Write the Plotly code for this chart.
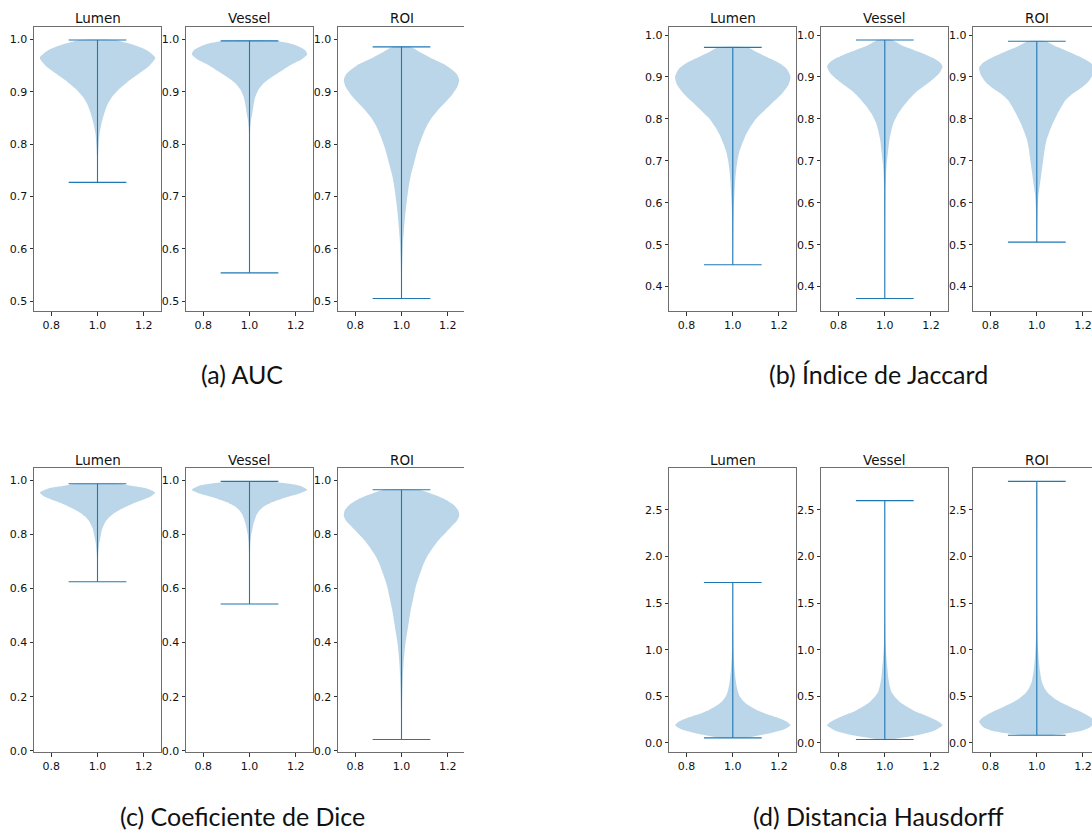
import numpy as np
import plotly.graph_objects as go

# ---------------- data ----------------
panel_titles = ["(a) AUC", "(b) Índice de Jaccard", "(c) Coeficiente de Dice", "(d) Distancia Hausdorff"]
regions = ["Lumen", "Vessel", "ROI"]

# violin profiles: value levels (min..max) and relative density width (max = 1)
auc_lumen_y = [0.727, 0.75, 0.78, 0.80, 0.82, 0.84, 0.86, 0.875, 0.89, 0.905, 0.92, 0.935, 0.95, 0.965, 0.98, 0.99, 0.999]
auc_lumen_w = [0.002, 0.004, 0.01, 0.02, 0.035, 0.07, 0.12, 0.17, 0.25, 0.37, 0.53, 0.72, 0.90, 1.00, 0.85, 0.62, 0.30]
auc_vessel_y = [0.554, 0.70, 0.80, 0.83, 0.845, 0.86, 0.875, 0.89, 0.905, 0.917, 0.928, 0.94, 0.952, 0.962, 0.972, 0.98, 0.99, 0.9975]
auc_vessel_w = [0.002, 0.003, 0.006, 0.012, 0.025, 0.05, 0.07, 0.10, 0.16, 0.25, 0.38, 0.55, 0.72, 0.90, 1.0, 0.96, 0.78, 0.45]
auc_roi_y = [0.505, 0.55, 0.58, 0.61, 0.64, 0.665, 0.69, 0.715, 0.74, 0.765, 0.79, 0.815, 0.835, 0.85, 0.865, 0.88, 0.895, 0.91, 0.923, 0.935, 0.95, 0.965, 0.975, 0.986]
auc_roi_w = [0.004, 0.008, 0.015, 0.025, 0.045, 0.065, 0.09, 0.12, 0.16, 0.22, 0.28, 0.36, 0.44, 0.52, 0.63, 0.76, 0.88, 0.97, 1.0, 0.95, 0.78, 0.50, 0.33, 0.15]

jac_lumen_y = [0.452, 0.50, 0.55, 0.59, 0.62, 0.65, 0.68, 0.70, 0.72, 0.74, 0.76, 0.78, 0.80, 0.82, 0.84, 0.86, 0.88, 0.90, 0.92, 0.935, 0.95, 0.96, 0.9706]
jac_lumen_w = [0.003, 0.005, 0.01, 0.018, 0.028, 0.04, 0.06, 0.08, 0.11, 0.16, 0.22, 0.30, 0.40, 0.55, 0.70, 0.85, 0.96, 1.0, 0.93, 0.78, 0.55, 0.40, 0.25]
jac_vessel_y = [0.3716, 0.45, 0.55, 0.62, 0.66, 0.69, 0.72, 0.75, 0.77, 0.79, 0.81, 0.83, 0.85, 0.865, 0.88, 0.895, 0.91, 0.925, 0.935, 0.945, 0.955, 0.965, 0.975, 0.988]
jac_vessel_w = [0.002, 0.004, 0.006, 0.01, 0.018, 0.03, 0.055, 0.08, 0.11, 0.15, 0.22, 0.32, 0.44, 0.55, 0.70, 0.84, 0.95, 1.0, 0.95, 0.84, 0.68, 0.49, 0.30, 0.12]
jac_roi_y = [0.506, 0.54, 0.57, 0.60, 0.62, 0.64, 0.67, 0.70, 0.73, 0.75, 0.77, 0.79, 0.81, 0.83, 0.845, 0.86, 0.875, 0.89, 0.905, 0.922, 0.935, 0.95, 0.965, 0.975, 0.985]
jac_roi_w = [0.004, 0.007, 0.012, 0.02, 0.03, 0.05, 0.08, 0.11, 0.14, 0.17, 0.22, 0.28, 0.35, 0.43, 0.50, 0.62, 0.78, 0.90, 0.97, 1.0, 0.92, 0.72, 0.47, 0.30, 0.15]

dice_lumen_y = [0.625, 0.66, 0.70, 0.73, 0.76, 0.78, 0.80, 0.82, 0.835, 0.85, 0.865, 0.88, 0.895, 0.91, 0.925, 0.94, 0.955, 0.97, 0.98, 0.987]
dice_lumen_w = [0.003, 0.005, 0.008, 0.013, 0.025, 0.04, 0.06, 0.08, 0.11, 0.15, 0.21, 0.30, 0.42, 0.57, 0.75, 0.92, 1.0, 0.85, 0.58, 0.35]
dice_vessel_y = [0.5425, 0.65, 0.73, 0.77, 0.80, 0.82, 0.84, 0.86, 0.875, 0.89, 0.905, 0.92, 0.935, 0.95, 0.965, 0.98, 0.99, 0.996]
dice_vessel_w = [0.002, 0.004, 0.008, 0.015, 0.03, 0.05, 0.07, 0.10, 0.13, 0.18, 0.26, 0.40, 0.60, 0.85, 1.0, 0.87, 0.60, 0.35]
dice_roi_y = [0.0414, 0.08, 0.15, 0.22, 0.28, 0.32, 0.36, 0.40, 0.44, 0.48, 0.52, 0.56, 0.60, 0.63, 0.66, 0.69, 0.72, 0.75, 0.77, 0.79, 0.81, 0.83, 0.85, 0.87, 0.89, 0.91, 0.93, 0.95, 0.965]
dice_roi_w = [0.003, 0.004, 0.008, 0.015, 0.025, 0.035, 0.05, 0.07, 0.10, 0.13, 0.16, 0.20, 0.24, 0.28, 0.33, 0.38, 0.45, 0.54, 0.61, 0.69, 0.78, 0.87, 0.96, 1.0, 0.98, 0.90, 0.75, 0.52, 0.30]

hd_lumen_y = [0.054, 0.08, 0.11, 0.15, 0.19, 0.23, 0.27, 0.31, 0.35, 0.40, 0.45, 0.50, 0.55, 0.60, 0.70, 0.80, 0.90, 1.0, 1.2, 1.4, 1.721]
hd_lumen_w = [0.25, 0.45, 0.68, 0.90, 1.0, 0.93, 0.78, 0.58, 0.42, 0.28, 0.18, 0.12, 0.09, 0.07, 0.045, 0.03, 0.02, 0.014, 0.008, 0.004, 0.002]
hd_vessel_y = [0.036, 0.06, 0.09, 0.13, 0.19, 0.24, 0.29, 0.34, 0.39, 0.44, 0.49, 0.54, 0.60, 0.70, 0.80, 0.90, 1.0, 1.1, 1.3, 1.6, 2.0, 2.599]
hd_vessel_w = [0.10, 0.35, 0.62, 0.85, 1.0, 0.90, 0.73, 0.52, 0.38, 0.26, 0.18, 0.12, 0.09, 0.06, 0.045, 0.03, 0.02, 0.012, 0.006, 0.004, 0.002, 0.001]
hd_roi_y = [0.082, 0.10, 0.13, 0.17, 0.23, 0.28, 0.33, 0.38, 0.43, 0.48, 0.53, 0.58, 0.65, 0.75, 0.85, 0.95, 1.05, 1.2, 1.5, 2.0, 2.806]
hd_roi_w = [0.25, 0.50, 0.78, 0.93, 1.0, 0.92, 0.78, 0.60, 0.43, 0.30, 0.20, 0.14, 0.09, 0.06, 0.04, 0.028, 0.018, 0.01, 0.005, 0.003, 0.002]

y_ticks = [
    [0.5, 0.6, 0.7, 0.8, 0.9, 1.0],
    [0.4, 0.5, 0.6, 0.7, 0.8, 0.9, 1.0],
    [0.0, 0.2, 0.4, 0.6, 0.8, 1.0],
    [0.0, 0.5, 1.0, 1.5, 2.0, 2.5],
]
x_ticks = [0.8, 1.0, 1.2]

violins = [
    [(auc_lumen_y, auc_lumen_w), (auc_vessel_y, auc_vessel_w), (auc_roi_y, auc_roi_w)],
    [(jac_lumen_y, jac_lumen_w), (jac_vessel_y, jac_vessel_w), (jac_roi_y, jac_roi_w)],
    [(dice_lumen_y, dice_lumen_w), (dice_vessel_y, dice_vessel_w), (dice_roi_y, dice_roi_w)],
    [(hd_lumen_y, hd_lumen_w), (hd_vessel_y, hd_vessel_w), (hd_roi_y, hd_roi_w)],
]

# ---------------- layout geometry (pixels) ----------------
W, H = 1092, 834
col_px = [
    [(34, 161), (186, 313), (338, 464)],
    [(669.3, 796.3), (821.3, 948.3), (973.3, 1092)],
]
row_px = [(27.3, 313.3), (471.3, 757)]
full_w_px = 127.0
x_lo, x_hi = 0.725, 1.275
caption_px = [(242, 376), (878, 376), (242, 821), (878, 821)]
title_y_px = [18.5, 462.5]

FILL = "rgba(31,119,180,0.3)"
LINE = "#1f77b4"
AXC = "#6e6e6e"
TICK_FONT = dict(family="DejaVu Sans", size=11, color="#111")

fig = go.Figure()
layout = dict(
    width=W, height=H, margin=dict(l=0, r=0, t=0, b=0),
    paper_bgcolor="white", plot_bgcolor="white", showlegend=False,
)
annotations = []

n = 0
for p in range(4):
    prow, pcol = divmod(p, 2)
    ytop, ybot = row_px[prow]
    all_y = [v for (yy, _) in violins[p] for v in yy]
    mn, mx = min(all_y), max(all_y)
    pad = 0.05 * (mx - mn)
    yrange = [mn - pad, mx + pad]
    for c in range(3):
        n += 1
        xl, xr = col_px[pcol][c]
        clipped = (xr - xl) < full_w_px - 0.5
        xrange = [x_lo, x_lo + (x_hi - x_lo) * (xr - xl) / full_w_px]
        sfx = "" if n == 1 else str(n)
        xa = "xaxis" + sfx
        ya = "yaxis" + sfx
        layout[xa] = dict(
            domain=[xl / W, xr / W], range=xrange, anchor="y" + sfx,
            tickvals=x_ticks, ticktext=[f"{t:.1f}" for t in x_ticks],
            ticks="outside", ticklen=3.5, tickwidth=0.8, tickcolor="#333",
            showline=True, linecolor=AXC, linewidth=1, mirror=True,
            showgrid=False, zeroline=False, tickfont=TICK_FONT, fixedrange=True,
        )
        layout[ya] = dict(
            domain=[1 - ybot / H, 1 - ytop / H], range=yrange, anchor="x" + sfx,
            tickvals=y_ticks[p], ticktext=[f"{t:.1f}" for t in y_ticks[p]],
            ticks="outside", ticklen=3.5, tickwidth=0.8, tickcolor="#333",
            showline=True, linecolor=AXC, linewidth=1, mirror=(not clipped),
            showgrid=False, zeroline=False, tickfont=TICK_FONT, fixedrange=True,
        )
        yy = np.asarray(violins[p][c][0], dtype=float)
        ww = np.asarray(violins[p][c][1], dtype=float) * 0.25
        px = np.concatenate([1 + ww, (1 - ww)[::-1]])
        py = np.concatenate([yy, yy[::-1]])
        fig.add_trace(go.Scatter(
            x=px, y=py, mode="lines", fill="toself", fillcolor=FILL,
            line=dict(width=0, shape="spline", smoothing=0.6, color=FILL),
            xaxis="x" + sfx, yaxis="y" + sfx, hoverinfo="skip",
        ))
        vmin, vmax = yy[0], yy[-1]
        fig.add_trace(go.Scatter(
            x=[1, 1, None, 0.875, 1.125, None, 0.875, 1.125],
            y=[vmin, vmax, None, vmin, vmin, None, vmax, vmax],
            mode="lines", line=dict(color=LINE, width=1.1),
            xaxis="x" + sfx, yaxis="y" + sfx, hoverinfo="skip",
        ))
        # subplot title
        annotations.append(dict(
            text=regions[c], xref="paper", yref="paper",
            x=(xl + full_w_px / 2) / W, y=1 - title_y_px[prow] / H,
            xanchor="center", yanchor="middle", showarrow=False,
            font=dict(family="DejaVu Sans", size=13.5, color="#111"),
        ))
    cx, cy = caption_px[p]
    annotations.append(dict(
        text=panel_titles[p], xref="paper", yref="paper",
        x=cx / W, y=1 - cy / H, xanchor="center", yanchor="middle",
        showarrow=False, font=dict(family="Lato", size=25, color="#111"),
    ))

layout["annotations"] = annotations
fig.update_layout(**layout)

fig.write_html("out.html", config={"displayModeBar": False},
               post_script="document.body.style.margin='0';document.body.style.overflow='hidden';")
